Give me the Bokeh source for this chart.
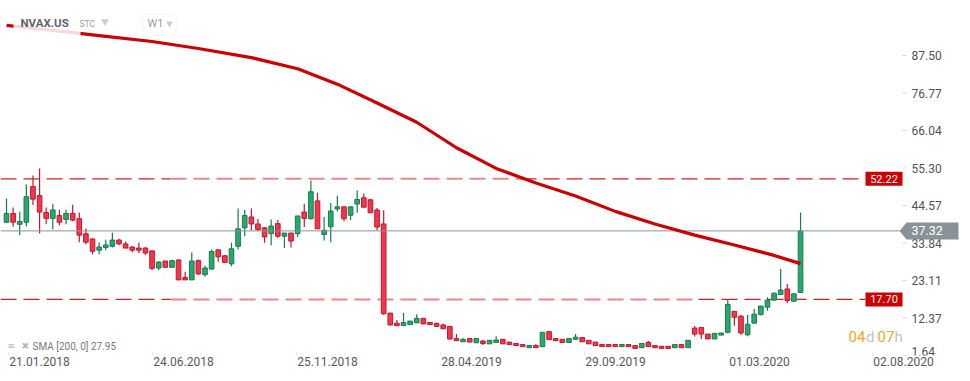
from bokeh.plotting import figure
from bokeh.models import Range1d, FixedTicker, CustomJSTickFormatter, ColumnDataSource, BoxAnnotation
from bokeh.core.properties import value
from bokeh.embed import file_html
from bokeh.resources import INLINE
import pandas as pd

# ---------------- data (weekly candles, NVAX.US) ----------------
opens = [39.8, 42.3, 39.2, 39.8, 50.0, 47.4, 42.6, 40.9, 41.7, 40.6,
         42.3, 40.8, 36.5, 35.0, 31.8, 32.6, 32.9, 34.7, 33.6, 32.7,
         32.4, 32.4, 31.6, 26.7, 28.7, 26.9, 29.0, 24.0, 23.3, 28.8,
         24.8, 26.4, 31.9, 30.2, 27.9, 32.9, 38.2, 41.3, 39.3, 38.2,
         36.5, 39.4, 35.8, 36.7, 36.5, 42.7, 40.8, 45.9, 36.3, 38.5,
         43.6, 44.2, 41.8, 45.0, 46.8, 46.2, 43.3, 39.3, 13.8, 10.9,
         10.2, 10.5, 11.0, 12.3, 11.1, 10.8, 10.4, 10.0, 6.5, 5.6,
         6.5, 5.3, 5.8, 5.0, 5.4, 6.3, 5.5, 5.1, 4.8, 3.9,
         4.5, 4.2, 8.5, 6.5, 6.3, 5.4, 6.3, 6.8, 6.0, 5.5,
         4.8, 4.8, 4.8, 4.2, 4.8, 4.5, 3.9, 5.4, 4.5, 4.3,
         4.3, 3.9, 4.8, 3.9, 9.5, 9.7, 7.8, 6.4, 7.5, 8.3,
         14.3, 12.9, 7.6, 10.9, 13.4, 15.5, 17.5, 19.1, 20.7, 17.2,
         19.7]
highs = [46.6, 44.0, 42.8, 50.6, 53.2, 55.2, 44.0, 45.1, 43.4, 43.4,
         44.8, 42.6, 38.0, 35.2, 34.0, 34.8, 36.8, 35.1, 34.3, 33.0,
         34.0, 32.7, 31.7, 28.6, 28.7, 29.1, 29.1, 25.6, 31.1, 29.1,
         27.4, 32.0, 31.9, 30.4, 33.9, 43.7, 43.4, 43.7, 40.7, 38.4,
         40.6, 40.4, 36.7, 36.7, 41.6, 45.1, 51.7, 48.2, 41.3, 45.3,
         47.4, 44.2, 44.2, 48.9, 48.0, 46.5, 43.9, 43.2, 13.8, 11.8,
         13.8, 11.5, 13.5, 12.3, 11.1, 11.1, 10.8, 10.0, 7.8, 6.6,
         6.5, 6.5, 6.1, 6.0, 7.2, 6.3, 5.5, 5.1, 4.8, 4.5,
         4.9, 8.3, 8.5, 6.5, 6.3, 6.5, 7.8, 6.8, 6.0, 5.5,
         4.8, 4.8, 4.8, 4.8, 4.8, 4.5, 5.1, 5.8, 4.5, 4.3,
         4.3, 4.8, 4.8, 6.0, 10.1, 9.7, 7.8, 8.0, 8.1, 17.8,
         14.3, 13.3, 13.3, 15.0, 15.8, 18.3, 19.7, 26.4, 22.1, 19.3,
         42.6]
lows = [39.6, 38.5, 36.1, 38.6, 44.7, 36.6, 39.2, 37.7, 38.9, 39.2,
        40.1, 34.1, 33.5, 30.6, 30.6, 31.8, 32.6, 33.2, 32.4, 31.2,
        31.0, 30.4, 26.1, 26.1, 26.9, 26.9, 23.3, 23.3, 23.3, 24.8,
        24.3, 26.2, 28.5, 28.2, 27.2, 32.0, 35.8, 37.5, 37.2, 33.9,
        33.2, 35.3, 32.4, 32.6, 35.6, 38.4, 40.6, 37.9, 34.6, 34.1,
        42.9, 40.1, 40.4, 42.5, 44.1, 42.5, 37.5, 13.3, 10.3, 10.1,
        10.2, 10.5, 11.0, 10.7, 10.5, 10.0, 9.3, 6.2, 5.9, 5.6,
        5.5, 5.3, 4.7, 5.0, 5.4, 5.0, 4.8, 4.5, 4.2, 3.9,
        3.9, 4.2, 6.2, 5.9, 5.4, 5.4, 6.3, 5.6, 5.0, 4.5,
        4.2, 4.2, 4.2, 4.2, 4.2, 3.7, 3.9, 4.2, 3.9, 3.7,
        3.7, 3.9, 3.9, 3.9, 7.1, 6.4, 6.4, 6.4, 7.5, 8.0,
        10.2, 7.6, 7.2, 10.9, 13.1, 14.5, 17.5, 19.1, 16.7, 17.2,
        19.7]
closes = [42.3, 39.8, 40.0, 47.1, 46.4, 42.7, 40.9, 43.3, 39.8, 42.3,
          40.4, 36.1, 34.1, 31.5, 32.7, 33.3, 34.7, 33.6, 32.4, 31.8,
          31.8, 31.0, 26.6, 28.4, 26.9, 28.8, 23.3, 23.3, 28.7, 25.0,
          26.7, 31.4, 29.9, 28.3, 32.2, 37.9, 41.7, 39.3, 37.7, 35.6,
          38.7, 35.8, 36.7, 34.4, 41.6, 40.9, 48.5, 37.9, 37.5, 43.0,
          44.2, 40.8, 44.2, 46.3, 44.1, 42.5, 38.4, 13.6, 10.4, 10.2,
          11.1, 11.5, 12.3, 10.7, 10.5, 10.0, 9.3, 6.4, 5.9, 6.3,
          5.5, 6.5, 5.1, 6.0, 6.1, 5.0, 4.8, 4.5, 4.2, 4.5,
          3.9, 8.3, 6.2, 5.9, 5.4, 6.5, 6.9, 5.6, 5.0, 4.5,
          4.2, 4.2, 4.2, 4.8, 4.2, 3.7, 5.1, 4.2, 3.9, 3.7,
          3.7, 4.8, 3.9, 6.0, 7.8, 7.8, 6.4, 8.0, 8.1, 16.3,
          12.6, 8.1, 10.6, 13.5, 15.8, 17.5, 19.5, 20.4, 17.4, 19.3,
          37.32]

# SMA(200) at selected candles
sma_idx = [0, 7, 14, 22, 29, 37, 44, 50, 56, 62, 68, 74, 80, 86, 92, 98, 104, 110, 116, 120]
sma_val = [96.1, 94.7, 93.2, 91.5, 89.5, 86.9, 83.7, 79.3, 73.9, 68.4, 61.1, 55.2, 51.0,
           47.3, 42.9, 39.3, 36.1, 33.3, 30.3, 27.95]
sma_last = 27.95

price_ticks = [87.50, 76.77, 66.04, 55.30, 44.57, 33.84, 23.11, 12.37, 1.64]
date_labels = ["21.01.2018", "24.06.2018", "25.11.2018", "28.04.2019",
               "29.09.2019", "01.03.2020", "02.08.2020"]
level_hi = 52.22
level_lo = 17.70
last_price = 37.32

# ---------------- layout constants ----------------
CANDLE_PX = 6.617          # px per candle
PX0 = 6.0                  # x of first candle
PX_PER_UNIT = 3.495        # px per price unit
REF_V, REF_PY = 87.5, 55.0 # price at a y pixel
W, FH = 962, 355           # frame size


def X(px):
    return (px - PX0) / CANDLE_PX


def Y(py):
    return REF_V - (py - REF_PY) / PX_PER_UNIT


FONT = value("Roboto")

p = figure(frame_width=W, frame_height=FH,
           x_range=Range1d(X(0), X(W)), y_range=Range1d(Y(FH), Y(0)),
           output_backend="svg", toolbar_location=None, y_axis_location=None,
           min_border_left=0, min_border_right=0, min_border_top=0, min_border_bottom=0)
p.outline_line_color = None
p.grid.visible = False
p.background_fill_color = "white"
p.border_fill_color = "white"

# x axis: labels start at the date position (centred label shifted by half its width)
first = pd.Timestamp("2018-01-21")
weeks = [(pd.to_datetime(d, format="%d.%m.%Y") - first).days / 7 for d in date_labels]
TICK_SCALE = 144.0 / 22 / CANDLE_PX
LABEL_HALF = 31.0 / CANDLE_PX
tick_pos = [X(8) + w * TICK_SCALE for w in weeks]
ax = p.xaxis[0]
ax.ticker = FixedTicker(ticks=[t + LABEL_HALF for t in tick_pos])
ax.formatter = CustomJSTickFormatter(args=dict(labels=date_labels), code="return labels[index];")
ax.axis_line_color = None
ax.major_tick_in = 0
ax.major_tick_out = 0
ax.major_tick_line_color = None
ax.minor_tick_line_color = None
ax.major_label_standoff = 1
ax.major_label_text_font = "Roboto"
ax.major_label_text_font_size = "12px"
ax.major_label_text_color = "#555a5e"

# faint date separators at the bottom of the frame
p.segment(x0=tick_pos, x1=tick_pos, y0=[Y(FH - 3)] * len(tick_pos), y1=[Y(FH)] * len(tick_pos),
          line_color="#e2e2e2", line_width=1)

# dashed levels
DASH = "16 7"
for lvl, pale_from, pale_to in [(level_hi, 170, 520), (level_lo, 170, 698)]:
    p.segment(x0=[X(0), X(pale_to)], x1=[X(pale_from), X(865)], y0=[lvl, lvl], y1=[lvl, lvl],
              line_color="#d42020", line_width=1.3, line_dash=DASH)
    p.segment(x0=[X(pale_from)], x1=[X(pale_to)], y0=[lvl], y1=[lvl],
              line_color="#e06060", line_alpha=0.75, line_width=2, line_dash=DASH)

# candles
n = len(opens)
idx = list(range(n))
upc = [c >= o for o, c in zip(opens, closes)]
src = ColumnDataSource(dict(
    x=idx, o=opens, h=highs, l=lows, c=closes,
    top=[max(o, c) for o, c in zip(opens, closes)],
    bot=[min(o, c) for o, c in zip(opens, closes)],
    fill=["#27a96d" if u else "#f2364b" for u in upc],
    line=["#1a7a4e" if u else "#c2182e" for u in upc],
))
p.segment(x0="x", x1="x", y0="l", y1="h", line_color="line", line_width=1.2, source=src)
p.vbar(x="x", top="top", bottom="bot", width=0.7, fill_color="fill", line_color="line",
       line_width=1, source=src)

# last price line
p.segment(x0=[X(0)], x1=[X(899)], y0=[last_price], y1=[last_price], line_color="#8b9297", line_width=1)

# SMA
p.line(sma_idx, sma_val, line_color="#cc0000", line_width=3.2, line_join="round")

# header overlay (fade behind header text)
p.quad(left=[X(13)], right=[X(80)], top=[Y(12)], bottom=[Y(36)], fill_color="white",
       fill_alpha=0.85, line_color=None)

# price axis labels (right side, inside)
p.segment(x0=[X(902)] * len(price_ticks), x1=[X(906)] * len(price_ticks), y0=price_ticks, y1=price_ticks,
          line_color="#d5d8da", line_width=1)
lab_y = [max(t, Y(351)) for t in price_ticks]
p.text(x=[X(911)] * len(price_ticks), y=lab_y, text=[f"{t:.2f}" for t in price_ticks],
       text_font=FONT, text_font_size="12px", text_color="#4e5459",
       text_align="left", text_baseline="middle")

# level boxes
for lvl in (level_hi, level_lo):
    p.rect(x=[X(883.5)], y=[lvl], width=37, height=14, width_units="screen", height_units="screen",
           fill_color="#cc0000", line_color=None)
    p.text(x=[X(883.5)], y=[lvl], text=[f"{lvl:.2f}"], text_font=FONT, text_font_size="11px",
           text_color="white", text_align="center", text_baseline="middle")

# last price tag
hh = 8.5 / PX_PER_UNIT
p.patch(x=[X(899), X(906), X(958), X(958), X(906)],
        y=[last_price, last_price + hh, last_price + hh, last_price - hh, last_price - hh],
        fill_color="#8b9297", line_color=None)
p.text(x=[X(911)], y=[last_price], text=[f"{last_price:.2f}"], text_font=FONT, text_font_size="12.5px",
       text_color="white", text_align="left", text_baseline="middle")

# header
p.text(x=[X(20)], y=[Y(22.5)], text=["NVAX.US"], text_font=FONT, text_font_size="11.5px",
       text_font_style="bold", text_color="#5a6570", text_align="left", text_baseline="middle")
p.text(x=[X(79)], y=[Y(23)], text=["STC"], text_font=FONT, text_font_size="8.5px",
       text_color="#8fa1b1", text_align="left", text_baseline="middle")
p.scatter(x=[X(104.5), X(169)], y=[Y(21), Y(23)], marker="inverted_triangle", size=[8, 7],
          fill_color="#c9ced2", line_color=None)
p.add_layout(BoxAnnotation(left=X(142), right=X(176), top=Y(14), bottom=Y(31.5),
                           fill_color=None, line_color="#dde1e4", line_width=1, border_radius=3))
p.text(x=[X(147)], y=[Y(23)], text=["W1"], text_font=FONT, text_font_size="11px",
       text_color="#959fa8", text_align="left", text_baseline="middle")

# SMA legend bottom-left
p.text(x=[X(7), X(21)], y=[Y(345.5), Y(345.5)], text=["\u2261", "\u2716"], text_font=value("DejaVu Sans"),
       text_font_size="9px", text_color="#b3b6b9", text_align="left", text_baseline="middle")
p.text(x=[X(32)], y=[Y(346)], text=[f"SMA [200,  0] {sma_last:.2f}"], text_font=FONT,
       text_font_size="10px", text_color="#777c80", text_align="left", text_baseline="middle")

# countdown
p.text(x=[X(848), X(865.5), X(877), X(894)], y=[Y(336)] * 4, text=["04", "d", "07", "h"],
       text_font=FONT, text_font_size="15px", text_color=["#f5a623", "#c4c4c4", "#f5a623", "#c4c4c4"],
       text_align="left", text_baseline="middle")

open("out.html", "w").write(file_html(p, INLINE))
